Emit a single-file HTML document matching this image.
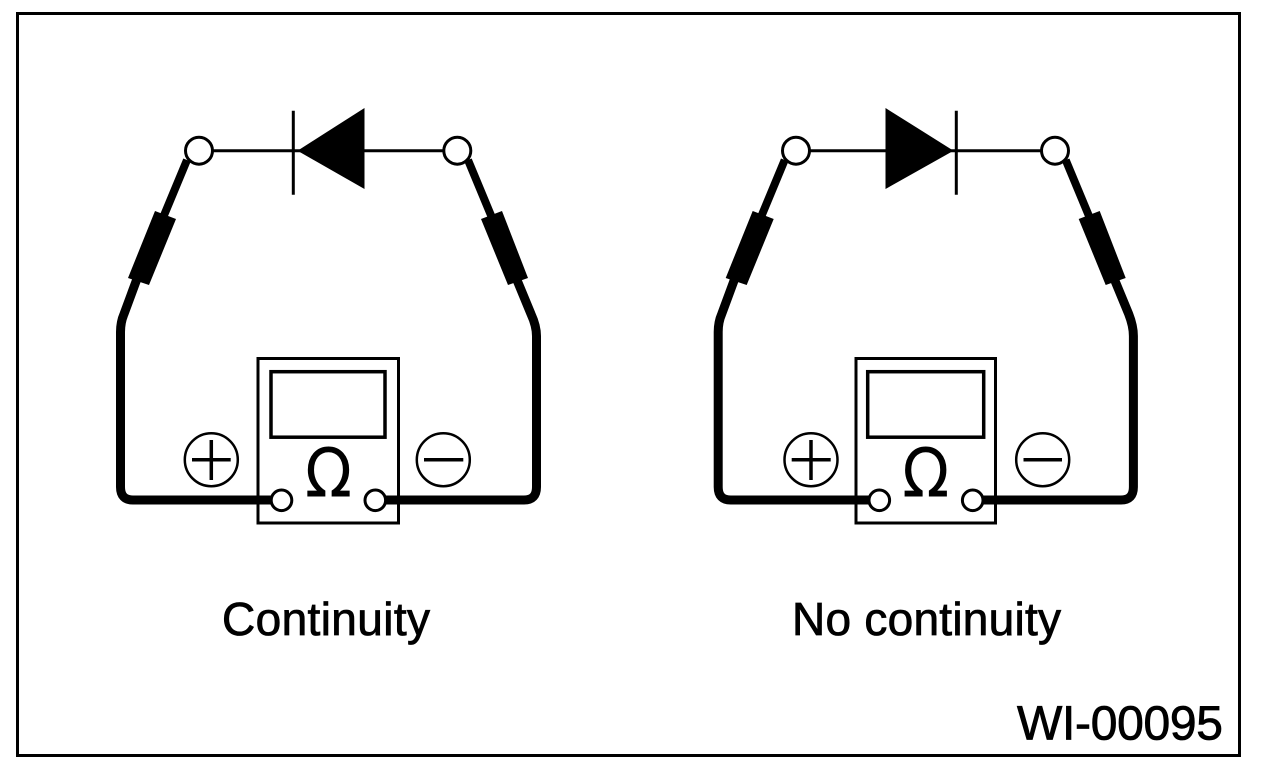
<!DOCTYPE html>
<html>
<head>
<meta charset="utf-8">
<style>
html,body{margin:0;padding:0;background:#fff;width:1264px;height:768px;overflow:hidden}
svg{display:block}
text{font-family:"Liberation Sans",sans-serif;fill:#000;stroke:#000;stroke-width:.8}
text.om{font-family:"DejaVu Sans",sans-serif;stroke-width:0}
</style>
</head>
<body>
<svg width="1264" height="768" viewBox="0 0 1264 768" xmlns="http://www.w3.org/2000/svg">
<rect width="1264" height="768" fill="#fff"/>
<rect x="17.5" y="13.5" width="1222" height="742" fill="none" stroke="#000" stroke-width="3"/>

<!-- LEFT -->
<g>
  <path d="M187 160 L160 225" fill="none" stroke="#000" stroke-width="8"/>
  <path d="M141 268 L124 314 Q120.5 322 120.5 332 V487 Q120.5 500 133 500 H275" fill="none" stroke="#000" stroke-width="9" stroke-linejoin="round"/>
  <path d="M468 160 L495 225" fill="none" stroke="#000" stroke-width="8"/>
  <path d="M512 268 L531 314 Q536.5 326 536.5 336 V487 Q536.5 500 524 500 H380" fill="none" stroke="#000" stroke-width="9" stroke-linejoin="round"/>
  <polygon points="155,211 176,219 149,285 128,278" fill="#000"/>
  <polygon points="481,219 502,211 528,278 508,285" fill="#000"/>
  <line x1="212" y1="150.7" x2="445" y2="150.7" stroke="#000" stroke-width="3"/>
  <line x1="293.3" y1="110.7" x2="293.3" y2="194.7" stroke="#000" stroke-width="3"/>
  <polygon points="297.5,150.7 364.5,108 364.5,189" fill="#000"/>
  <circle cx="199" cy="150.7" r="13.5" fill="#fff" stroke="#000" stroke-width="3"/>
  <circle cx="457.3" cy="150.7" r="13.5" fill="#fff" stroke="#000" stroke-width="3"/>
  <rect x="258" y="358.5" width="140.5" height="164.5" fill="none" stroke="#000" stroke-width="3"/>
  <rect x="271" y="371.7" width="114" height="65.5" fill="none" stroke="#000" stroke-width="3.5"/>
  <circle cx="281.5" cy="500.3" r="10.3" fill="#fff" stroke="#000" stroke-width="3"/>
  <circle cx="375.3" cy="500.3" r="10.3" fill="#fff" stroke="#000" stroke-width="3"/>
  <text class="om" x="305" y="496.7" font-size="68" textLength="47" lengthAdjust="spacingAndGlyphs">Ω</text>
  <circle cx="211.3" cy="459.7" r="26.5" fill="none" stroke="#000" stroke-width="2.5"/>
  <path d="M192 459.7 H230.7 M211.3 440 V480" stroke="#000" stroke-width="3.5" fill="none"/>
  <circle cx="443.3" cy="459.7" r="26.5" fill="none" stroke="#000" stroke-width="2.5"/>
  <path d="M424 459.7 H463.3" stroke="#000" stroke-width="3.5" fill="none"/>
</g>

<!-- RIGHT -->
<g>
  <path d="M784.7 160 L757.7 225" fill="none" stroke="#000" stroke-width="8"/>
  <path d="M738.7 268 L721.7 314 Q718.2 322 718.2 332 V487 Q718.2 500 730.7 500 H873" fill="none" stroke="#000" stroke-width="9" stroke-linejoin="round"/>
  <path d="M1065.7 160 L1092.7 225" fill="none" stroke="#000" stroke-width="8"/>
  <path d="M1109.7 268 L1128.7 314 Q1133.4 326 1133.4 336 V487 Q1133.4 500 1121 500 H978" fill="none" stroke="#000" stroke-width="9" stroke-linejoin="round"/>
  <polygon points="752.7,211 773.7,219 746.7,285 725.7,278" fill="#000"/>
  <polygon points="1078.7,219 1099.7,211 1125.7,278 1105.7,285" fill="#000"/>
  <line x1="809" y1="150.7" x2="1043" y2="150.7" stroke="#000" stroke-width="3"/>
  <line x1="956.3" y1="110.7" x2="956.3" y2="194.7" stroke="#000" stroke-width="3"/>
  <polygon points="953.5,150.7 885.5,108 885.5,189" fill="#000"/>
  <circle cx="796" cy="150.7" r="13.5" fill="#fff" stroke="#000" stroke-width="3"/>
  <circle cx="1055" cy="150.7" r="13.5" fill="#fff" stroke="#000" stroke-width="3"/>
  <rect x="856" y="358.5" width="139.5" height="164.5" fill="none" stroke="#000" stroke-width="3"/>
  <rect x="867.7" y="371.7" width="116" height="65.5" fill="none" stroke="#000" stroke-width="3.5"/>
  <circle cx="879.3" cy="500.3" r="10.3" fill="#fff" stroke="#000" stroke-width="3"/>
  <circle cx="972.7" cy="500.3" r="10.3" fill="#fff" stroke="#000" stroke-width="3"/>
  <text class="om" x="902.2" y="496.7" font-size="68" textLength="47" lengthAdjust="spacingAndGlyphs">Ω</text>
  <circle cx="811" cy="459.7" r="26.5" fill="none" stroke="#000" stroke-width="2.5"/>
  <path d="M791.7 459.7 H830.7 M811 440 V480" stroke="#000" stroke-width="3.5" fill="none"/>
  <circle cx="1042.7" cy="459.7" r="26.5" fill="none" stroke="#000" stroke-width="2.5"/>
  <path d="M1023.5 459.7 H1062" stroke="#000" stroke-width="3.5" fill="none"/>
</g>

<text x="222" y="635" font-size="46" textLength="208" lengthAdjust="spacing">Continuity</text>
<text x="792" y="635" font-size="46" textLength="269" lengthAdjust="spacing">No continuity</text>
<text x="1017" y="739.5" font-size="48" textLength="206" lengthAdjust="spacing">WI-00095</text>
</svg>
</body>
</html>
